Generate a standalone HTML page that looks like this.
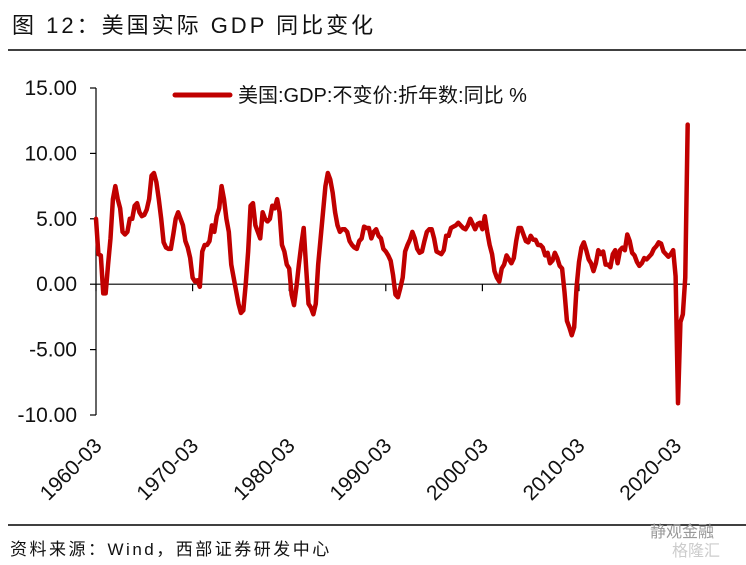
<!DOCTYPE html>
<html><head><meta charset="utf-8">
<style>
html,body{margin:0;padding:0;background:#fff;}
svg{display:block;font-family:"Liberation Sans","Noto Sans CJK SC",sans-serif;}
</style></head>
<body>
<svg id="chart" width="746" height="565" viewBox="0 0 746 565">
  <text x="12" y="33" font-size="22" fill="#111" letter-spacing="3">图 12：美国实际 GDP 同比变化</text>
  <line x1="8" y1="50" x2="746" y2="50" stroke="#000" stroke-width="1.5"/>
  <g id="yaxis"></g>
  <g id="xaxis"></g>
  <g id="series"></g>
  <g>
    <line x1="175" y1="95" x2="230" y2="95" stroke="#C00000" stroke-width="5" stroke-linecap="round"/>
    <text x="238" y="102" font-size="20" fill="#111">美国:GDP:不变价:折年数:同比 %</text>
  </g>
  <line x1="8" y1="525" x2="746" y2="525" stroke="#000" stroke-width="1.5"/>
  <text x="10" y="555" font-size="17" fill="#111" letter-spacing="2.5">资料来源：Wind，西部证券研发中心</text>
  <text x="650" y="537" font-size="16" fill="#999">静观金融</text>
  <text x="672" y="556" font-size="16" fill="#ccc">格隆汇</text>
</svg>
<script>
const yTicks = [15, 10, 5, 0, -5, -10];
const yTickLabels = ["15.00", "10.00", "5.00", "0.00", "-5.00", "-10.00"];
const xTickLabels = ["1960-03", "1970-03", "1980-03", "1990-03", "2000-03", "2010-03", "2020-03"];
const xTickIndex = [0, 40, 80, 120, 160, 200, 240];
const startYear = 1960;
const gdpYoY = [
 5.0,2.3,2.2,-0.7, -0.7,1.5,3.5,6.5, 7.5,6.5,5.8,4.0, 3.8,4.0,5.0,5.0,
 6.0,6.2,5.5,5.2, 5.3,5.7,6.5,8.3, 8.5,7.8,6.5,5.0, 3.2,2.8,2.7,2.7,
 3.8,5.0,5.5,5.0, 4.5,3.3,2.8,2.0, 0.5,0.2,0.3,-0.2, 2.5,3.0,3.0,3.3,
 4.5,4.0,5.2,5.8, 7.5,6.5,5.0,4.0, 1.5,0.5,-0.5,-1.5, -2.2,-2.0,0.0,2.5,
 6.0,6.2,4.5,4.0, 3.5,5.5,5.0,4.8, 5.0,6.0,5.8,6.5, 5.5,3.0,2.5,1.5,
 1.2,-0.8,-1.6,-0.2, 1.5,3.0,4.3,1.3, -1.5,-1.8,-2.3,-1.5, 1.5,3.5,5.5,7.5,
 8.5,8.0,7.0,5.5, 4.5,4.0,4.2,4.2, 4.0,3.3,3.0,2.8, 2.7,3.3,3.5,4.4,
 4.3,4.3,3.5,4.0, 4.2,3.7,3.5,2.7, 2.5,2.2,1.8,0.7, -0.8,-1.0,-0.3,0.5,
 2.5,3.0,3.4,4.0, 3.5,2.7,2.4,2.5, 3.3,4.0,4.2,4.2, 3.5,2.5,2.4,2.3,
 2.6,3.7,3.7,4.3, 4.4,4.5,4.7,4.5, 4.3,4.2,4.5,5.0, 4.6,4.2,4.6,4.7,
 4.2,5.2,4.0,3.0, 2.3,1.0,0.5,0.2, 1.2,1.5,2.2,1.9, 1.6,2.0,3.3,4.3,
 4.3,3.8,3.3,3.2, 3.7,3.4,3.4,3.0, 3.0,2.8,2.2,2.4, 1.6,1.8,2.4,2.0,
 1.4,1.2,-0.6,-2.8, -3.3,-3.9,-3.3,-0.2, 1.7,2.8,3.2,2.6, 1.9,1.6,1.0,1.6,
 2.6,2.3,2.5,1.5, 1.5,1.3,2.3,2.6, 1.6,2.6,2.8,2.6, 3.8,3.3,2.4,2.2,
 1.7,1.4,1.6,2.0, 1.9,2.1,2.3,2.7, 2.9,3.2,3.1,2.5, 2.3,2.1,2.3,2.6,
 0.6,-9.1,-2.9,-2.3, 0.5,12.2
];
const NS = "http://www.w3.org/2000/svg";
const X0 = 96, DX = 96.6 / 40, Y0 = 284.2, PXU = 13.08;
function xScale(i){ return X0 + i * DX; }
function yScale(v){ return Y0 - v * PXU; }
function mk(tag, attrs, parent){
  const el = document.createElementNS(NS, tag);
  for (const k in attrs) el.setAttribute(k, attrs[k]);
  parent.appendChild(el);
  return el;
}
const yG = document.getElementById('yaxis');
const xG = document.getElementById('xaxis');
const sG = document.getElementById('series');
let el = mk('line', {x1: X0, y1: yScale(15), x2: X0, y2: yScale(-10), stroke: '#000', 'stroke-width': 1.2}, yG);


yTicks.forEach((v, k) => {
  const t = mk('line', {x1: X0 - 6, y1: yScale(v), x2: X0, y2: yScale(v), stroke: '#000', 'stroke-width': 1.2}, yG);
  
  
  const l = mk('text', {x: 77, y: yScale(v) + 7, 'text-anchor': 'end', 'font-size': 21, fill: '#111'}, yG);
  l.textContent = yTickLabels[k];
  
  
});
el = mk('line', {x1: X0, y1: Y0, x2: 690, y2: Y0, stroke: '#000', 'stroke-width': 1.2}, xG);


xTickIndex.forEach((idx, k) => {
  const x = xScale(idx);
  const t = mk('line', {x1: x, y1: Y0, x2: x, y2: Y0 + 7, stroke: '#000', 'stroke-width': 1.2}, xG);
  
  
  const ax = x + 7, ay = 447;
  const l = mk('text', {x: ax, y: ay, 'text-anchor': 'end', 'font-size': 21, fill: '#111', transform: 'rotate(-45 ' + ax + ' ' + ay + ')'}, xG);
  l.textContent = xTickLabels[k];
  
  
});
const pts = gdpYoY.map((v, i) => xScale(i).toFixed(2) + ',' + yScale(v).toFixed(2)).join(' ');
el = mk('polyline', {points: pts, fill: 'none', stroke: '#C00000', 'stroke-width': 4.5, 'stroke-linejoin': 'round', 'stroke-linecap': 'round'}, sG);


</script>
</body></html>
